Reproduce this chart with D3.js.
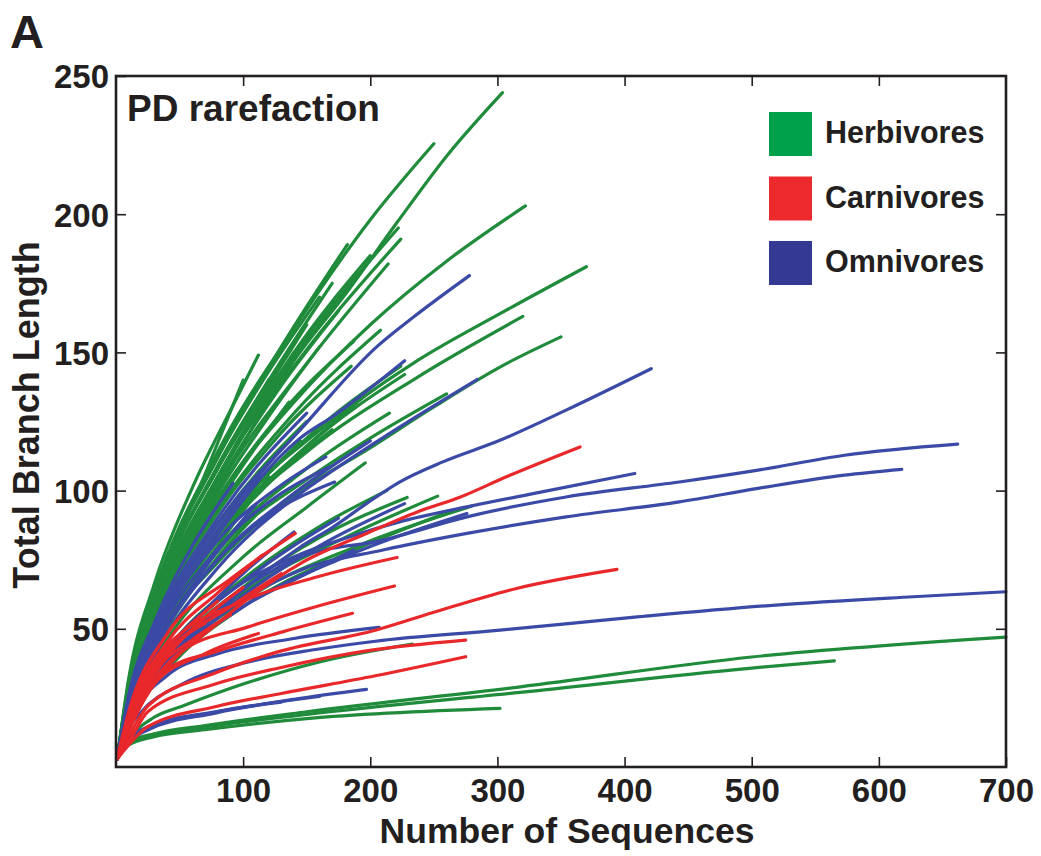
<!DOCTYPE html>
<html>
<head>
<meta charset="utf-8">
<script src="https://cdn.jsdelivr.net/npm/d3@7"></script>
<style>
  body { margin: 0; background: #fff; }
  text { font-family: "Liberation Sans", Arial, sans-serif; font-weight: bold; fill: #231f20; }
</style>
</head>
<body>
<div id="chart"></div>
<script>
// Rarefaction curves, [sequences, PD] pairs
const herbivoreCurves = [
  [[1,3],[10,25],[30,52],[80,100],[140,147],[182,172],[221,197],[260,221],[304,244]],
  [[1,3],[10,31],[30,63],[80,114],[142,160],[200,198],[250,225.5]],
  [[1,3],[10,30],[30,62],[80,112],[130,152],[182,189]],
  [[1,3],[10,29],[30,60],[80,108],[150,155],[222,195]],
  [[1,3],[10,28],[30,58],[80,105],[150,151],[224,191]],
  [[1,3],[10,27],[30,56],[80,101],[150,146],[214,182]],
  [[1,3],[10,32],[30,66],[60,101],[90,129],[112,149]],
  [[1,3],[15,39],[39,72],[71,107],[100,140]],
  [[1,3],[10,26],[30,52],[80,93],[140,128],[208,158]],
  [[1,3],[10,27],[30,54],[80,97],[130,128],[187,154]],
  [[1,3],[10,22],[30,45],[80,82],[150,116],[227,142]],
  [[1,3],[10,23],[30,47],[80,85],[150,119],[224,145]],
  [[1,3],[10,24],[30,48],[80,85],[140,112],[195,134]],
  [[1,3],[10,28],[30,55],[80,97],[140,132],[200,160],[260,183],[322,203]],
  [[1,3],[10,24],[30,50],[80,88],[150,118],[237,147],[302,164],[370,181]],
  [[1,3],[10,24],[30,48],[80,84],[150,114],[237,141],[320,163]],
  [[1,3],[10,22],[30,44],[80,74],[145,100],[197,114.6],[249,130],[302,144.7],[350,155.6]],
  [[1,3],[10,19],[40,42],[100,68],[160,87],[213,100]],
  [[1,3],[10,18],[40,40],[100,65],[160,83],[229,97.5]],
  [[1,3],[10,18],[40,39],[100,63],[180,83],[253,98]],
  [[1,3],[10,17],[40,37],[100,60],[190,80],[280,94.4]],
  [[1,3],[10,16],[40,35],[100,58],[180,77],[264,92.7]],
  [[1,3],[10,21],[40,46],[100,76],[150,94],[196,110]],
  [[1,3],[10,8],[30,11],[70,13.5],[150,17.5],[302,21.2]],
  [[1,3],[10,8.5],[30,11.5],[70,14.5],[150,19],[318,27],[500,35.8],[565,38.4]],
  [[1,3],[10,9],[30,12],[70,15],[150,20],[318,29],[500,39.8],[700,47]],
  [[1,3],[10,10],[30,18],[52,22],[100,30],[160,38],[233,44.5]],
  [[1,3],[10,30],[30,62],[80,112],[120,143],[160,170]],
  [[1,3],[10,29],[30,60],[80,109],[130,147],[170,175]],
  [[1,3],[10,29],[30,60],[80,108],[120,138],[150,160]],
  [[1,3],[10,28],[30,58],[80,104],[140,150]],
  [[1,3],[10,27],[30,56],[80,102],[130,138],[175,165]],
  [[1,3],[10,27],[30,55],[80,99],[125,130],[160,152]],
  [[1,3],[10,26],[30,53],[80,95],[136,132]],
  [[1,3],[10,30],[30,61],[80,108],[120,140]],
  [[1,3],[10,25],[30,51],[80,92],[130,121],[185,145]],
  [[1,3],[10,24],[30,49],[80,88],[150,125]],
  [[1,3],[10,28],[30,58],[80,104],[140,148],[190,178]],
  [[1,3],[10,28],[30,58],[80,105],[140,150],[200,185]],
  [[1,3],[10,22],[40,50],[80,76],[112,92]],
  [[1,3],[10,23],[30,47],[80,84],[145,118]],
  [[1,3],[10,22],[30,45],[80,82],[130,107],[170,122]],
  [[1,3],[10,22],[30,45],[80,80],[120,105]],
  [[1,3],[10,22],[30,44],[80,78],[150,104],[200,119],[260,135]],
  [[1,3],[10,22],[30,44],[80,79],[150,108],[215,128]]
];

const omnivoreCurves = [
  [[1,3],[10,24],[30,48],[80,88],[145,122],[205,152],[234,162.8],[278,177.8]],
  [[1,3],[10,23],[30,46],[80,84],[145,119],[171,127],[227,147]],
  [[1,3],[10,20],[30,40],[80,72],[145,99],[171,107.4],[223,123],[284,140.2]],
  [[1,3],[10,16],[30,32],[80,56],[145,79.6],[171,86.9],[197,95.3],[223,103.1],[257,110.4],[302,118.2],[354,129.1],[421,144.1]],
  [[1,3],[10,17],[30,35],[80,60],[145,77],[184,83.3],[223,88.7],[276,94.1],[328,98.9],[408,106.2]],
  [[1,3],[10,16],[30,33],[80,57],[145,76],[210,82.1],[276,90.5],[354,97.7],[443,103.1],[505,107.4],[573,112.8],[662,116.8]],
  [[1,3],[10,15],[30,31],[80,54],[145,71.2],[210,78.5],[276,84.5],[354,90.5],[443,95.9],[505,100.8],[573,105.6],[618,107.7]],
  [[1,3],[10,17],[40,38],[100,62],[160,80],[227,95.3]],
  [[1,3],[10,16],[40,36],[100,58],[180,76],[276,91.7]],
  [[1,3],[10,24],[30,47],[80,82],[130,102],[165,112.2]],
  [[1,3],[10,23],[30,45],[80,79],[130,99],[168,108.6]],
  [[1,3],[10,22],[30,43],[80,75],[130,94],[172,103.1]],
  [[1,3],[10,26],[30,52],[60,80],[92,102.6]],
  [[1,3],[10,16],[40,36],[100,58],[150,70],[187,78.5]],
  [[1,3],[10,14],[20,20],[52,30],[104,38],[157,42.5],[204,45.5],[302,49.5],[410,54.3],[519,58.6],[627,61.6],[700,63.4]],
  [[1,3],[10,16],[40,33],[80,41],[140,46.5],[207,50.5]],
  [[1,3],[10,9],[25,13.4],[78,19.5],[140,24.5],[197,28.1]],
  [[1,3],[10,9.5],[25,14],[78,19.8],[160,25.5]],
  [[1,3],[10,10],[25,14.5],[78,20],[130,23.5]],
  [[1,3],[10,25],[30,50],[80,90],[150,128]],
  [[1,3],[10,24],[30,48],[80,86],[130,115]],
  [[1,3],[10,22],[30,43],[70,72],[110,95]],
  [[1,3],[10,21],[30,42],[80,75],[140,99],[200,118]],
  [[1,3],[10,19],[40,42],[100,67],[175,90]],
  [[1,3],[10,18],[40,40],[100,70],[140,85]]
];

const carnivoreCurves = [
  [[1,3],[10,14],[30,30],[80,52],[145,73.6],[197,84.5],[237,92.3],[271,97.7],[307,105],[365,115.8]],
  [[1,3],[10,11],[25,22],[78,34],[130,42],[204,49.5],[250,56],[315,64.6],[394,71.5]],
  [[1,3],[10,9],[25,20],[78,30],[130,36],[197,42],[275,45.9]],
  [[1,3],[10,8],[25,14.6],[78,21.8],[130,26.6],[204,33],[275,39.9]],
  [[1,3],[10,14],[52,42],[104,50.7],[157,58],[219,65.5]],
  [[1,3],[10,13],[39,35],[78,41.7],[131,48.9],[186,55.6]],
  [[1,3],[10,16],[40,43],[100,60],[160,69],[221,75.8]],
  [[1,3],[10,20],[40,48],[90,68],[141,84.5]],
  [[1,3],[10,19],[40,45],[80,63],[115,76.6]],
  [[1,3],[10,15],[30,30],[70,41],[112,48.3]],
  [[1,3],[10,17],[40,40],[70,54],[100,65]],
  [[1,3],[10,18],[30,38],[55,50],[80,60]],
  [[1,3],[10,16],[30,34],[60,46],[90,55]],
  [[1,3],[10,16],[30,35],[70,52]],
  [[1,3],[10,15],[40,40],[90,58],[130,70]]
];

const groups = ["Herbivores", "Carnivores", "Omnivores"];
const legendColors = ["#00a14b", "#ec2a2e", "#343a94"];
const lineColors = { Herbivores: "#1f8b3b", Carnivores: "#e8282b", Omnivores: "#3b4aa6" };

const xTicks = [100, 200, 300, 400, 500, 600, 700];
const yTicks = [50, 100, 150, 200, 250];

const W = 1041, H = 856;
const svg = d3.select("#chart").append("svg")
    .attr("width", W)
    .attr("height", H);

const x = d3.scaleLinear([0, 700], [116, 1006]);
const y = d3.scaleLinear([0, 250], [767, 76]);

// curves
const line = d3.line()
    .x(d => x(d[0]))
    .y(d => y(d[1]))
    .curve(d3.curveMonotoneX);

const series = [
  { name: "Herbivores", curves: herbivoreCurves },
  { name: "Omnivores", curves: omnivoreCurves },
  { name: "Carnivores", curves: carnivoreCurves }
];

series.forEach(s => {
  svg.append("g")
    .selectAll("path")
    .data(s.curves)
    .join("path")
    .attr("d", line)
    .attr("fill", "none")
    .attr("stroke", lineColors[s.name])
    .attr("stroke-width", 3.2)
    .attr("stroke-linecap", "round");
});

// axes, ticks pointing inward
const xAxis = svg.append("g")
    .attr("transform", `translate(0, ${y(0)})`)
    .call(d3.axisBottom(x).tickValues(xTicks).tickSize(-10).tickPadding(12).tickFormat(d3.format("d")));
const yAxis = svg.append("g")
    .attr("transform", `translate(${x(0)}, 0)`)
    .call(d3.axisLeft(y).tickValues(yTicks).tickSize(-10).tickPadding(7).tickFormat(d3.format("d")));
svg.append("g")
    .attr("transform", `translate(0, ${y(250)})`)
    .call(d3.axisTop(x).tickValues([100, 200, 300, 400, 500, 600]).tickSize(-10).tickFormat(""));
svg.append("g")
    .attr("transform", `translate(${x(700)}, 0)`)
    .call(d3.axisRight(y).tickValues([50, 100, 150, 200]).tickSize(-10).tickFormat(""));

svg.selectAll(".domain").remove();
svg.selectAll(".tick line").attr("stroke", "#231f20").attr("stroke-width", 1.6);
[xAxis, yAxis].forEach(a => a.selectAll("text")
    .style("font-size", "33px")
    .style("font-family", "'Liberation Sans', Arial, sans-serif")
    .style("font-weight", "bold")
    .attr("fill", "#231f20"));
xAxis.selectAll("text").attr("dy", "0.7em");
yAxis.selectAll("text").attr("dy", "0.36em");

// frame
svg.append("rect")
    .attr("x", x(0))
    .attr("y", y(250))
    .attr("width", x(700) - x(0))
    .attr("height", y(0) - y(250))
    .attr("fill", "none")
    .attr("stroke", "#231f20")
    .attr("stroke-width", 2.6);

// titles
svg.append("text")
    .attr("x", 567)
    .attr("y", 843)
    .attr("text-anchor", "middle")
    .style("font-size", "35.5px")
    .text("Number of Sequences");

svg.append("text")
    .attr("transform", "translate(39, 415) rotate(-90)")
    .attr("text-anchor", "middle")
    .style("font-size", "36px")
    .text("Total Branch Length");

svg.append("text")
    .attr("x", 127)
    .attr("y", 121)
    .style("font-size", "37px")
    .text("PD rarefaction");

svg.append("text")
    .attr("x", 10)
    .attr("y", 48)
    .style("font-size", "47px")
    .text("A");

// legend
const legend = svg.append("g")
    .selectAll("g")
    .data(groups)
    .join("g")
    .attr("transform", (d, i) => `translate(769, ${112 + i * 64.5})`);

legend.append("rect")
    .attr("width", 43)
    .attr("height", 44)
    .attr("fill", (d, i) => legendColors[i]);

legend.append("text")
    .attr("x", 56)
    .attr("y", 31)
    .style("font-size", "30.5px")
    .text(d => d);
</script>
</body>
</html>
